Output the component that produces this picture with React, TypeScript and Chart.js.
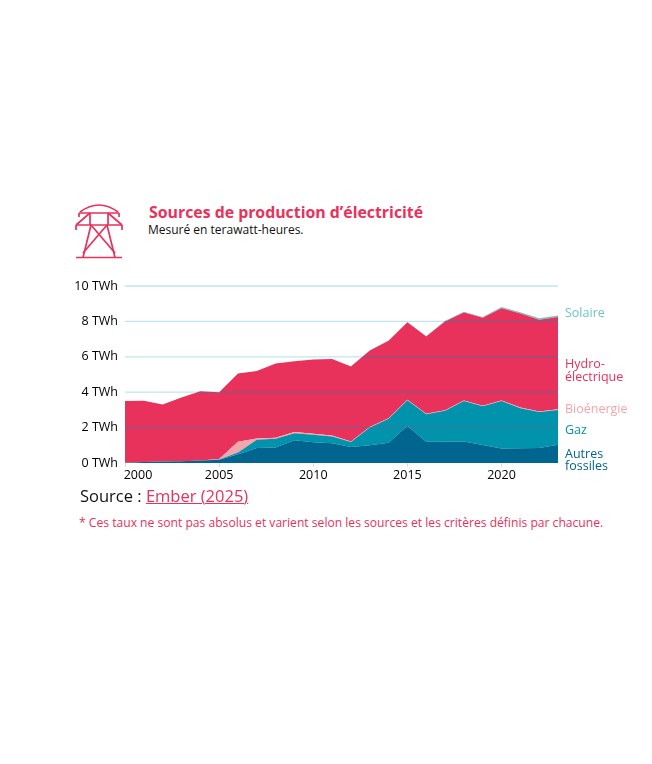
import { useEffect, useRef } from "react"
import { Chart, registerables } from "chart.js"

Chart.register(...registerables)

const years = [2000, 2001, 2002, 2003, 2004, 2005, 2006, 2007, 2008, 2009, 2010, 2011, 2012, 2013, 2014, 2015, 2016, 2017, 2018, 2019, 2020, 2021, 2022, 2023]

const fossiles = [0.02, 0.05, 0.08, 0.1, 0.14, 0.18, 0.5, 0.85, 0.87, 1.28, 1.17, 1.12, 0.9, 1.0, 1.15, 2.1, 1.2, 1.2, 1.22, 1.02, 0.82, 0.83, 0.85, 1.03]
const gaz = [0, 0, 0, 0, 0, 0.02, 0.1, 0.47, 0.5, 0.4, 0.43, 0.38, 0.28, 1.0, 1.35, 1.45, 1.55, 1.75, 2.28, 2.18, 2.68, 2.27, 2.03, 1.97]
const bioenergie = [0, 0, 0, 0, 0, 0.02, 0.6, 0.06, 0.05, 0.07, 0.05, 0.05, 0.04, 0.03, 0.03, 0.03, 0.03, 0.03, 0.03, 0.03, 0.03, 0.03, 0.03, 0.03]
const hydro = [3.48, 3.47, 3.22, 3.6, 3.91, 3.78, 3.85, 3.82, 4.2, 4.0, 4.2, 4.32, 4.23, 4.32, 4.37, 4.37, 4.37, 5.02, 4.97, 4.97, 5.22, 5.32, 5.19, 5.22]
const solaire = [0, 0, 0, 0, 0, 0, 0, 0, 0, 0, 0, 0.01, 0.01, 0.01, 0.02, 0.02, 0.03, 0.04, 0.05, 0.05, 0.06, 0.07, 0.08, 0.09]

const RED = "#e8315b"
const FONT = "'Open Sans', sans-serif"

const sideLabels = [
  { text: "Solaire", top: 305, color: "#6cc5c9" },
  { text: "Hydro-", top: 356, color: RED },
  { text: "électrique", top: 369, color: RED },
  { text: "Bioénergie", top: 401, color: "#f5a5ad" },
  { text: "Gaz", top: 422, color: "#0093ab" },
  { text: "Autres", top: 446, color: "#006690" },
  { text: "fossiles", top: 458, color: "#006690" },
]

// grid lines are pale on the white page and darker where they cross the areas
const gridLines = {
  id: "gridLines",
  afterDatasetsDraw(chart: Chart) {
    const { ctx, chartArea, scales } = chart
    const stroke = (color: string, mode: GlobalCompositeOperation) => {
      ctx.globalCompositeOperation = mode
      ctx.strokeStyle = color
      ctx.lineWidth = 1.3
      scales.y.ticks.forEach((t) => {
        if (t.value === 0) return
        const y = scales.y.getPixelForValue(t.value)
        ctx.beginPath()
        ctx.moveTo(chartArea.left, y)
        ctx.lineTo(chartArea.right, y)
        ctx.stroke()
      })
    }
    ctx.save()
    stroke("rgba(80, 110, 150, 0.65)", "source-atop")
    stroke("#bfe6ee", "destination-over")
    ctx.restore()
  },
}

function area(label: string, data: number[], color: string, fill: string | number) {
  return {
    label,
    data,
    backgroundColor: color,
    borderColor: color,
    borderWidth: 0,
    pointRadius: 0,
    tension: 0,
    fill,
  }
}

function PylonIcon() {
  return (
    <svg
      width="60"
      height="65"
      viewBox="0 0 60 65"
      fill="none"
      stroke={RED}
      strokeWidth="1.7"
      style={{ position: "absolute", left: 70, top: 200 }}
    >
      <path d="M6 57.5H52" />
      <path d="M13 57.5L21 25M45 57.5L37 25" />
      <path d="M20 13V25M38 13V25" />
      <path d="M9 13H49M9 13V17M49 13V17" />
      <path d="M6 25H52M6 25V30M52 25V30" />
      <path d="M20 13L6 25M38 13L52 25" />
      <path d="M10 12Q29 -2 48 12" />
      <path d="M21 25L45 53M37 25L13 53" />
    </svg>
  )
}

export default function App() {
  const chartRef = useRef<HTMLCanvasElement>(null)

  useEffect(() => {
    if (!chartRef.current) return
    const chart = new Chart(chartRef.current, {
      type: "line",
      plugins: [gridLines],
      data: {
        labels: years,
        datasets: [
          area("Autres fossiles", fossiles, "#006690", "origin"),
          area("Gaz", gaz, "#0093ab", "-1"),
          area("Bioénergie", bioenergie, "#f5a5ad", "-1"),
          area("Hydro-électrique", hydro, RED, "-1"),
          area("Solaire", solaire, "#6cc5c9", "-1"),
        ],
      },
      options: {
        animation: false,
        responsive: false,
        layout: { autoPadding: false, padding: { top: 10, right: 12, left: 0, bottom: 0 } },
        plugins: { legend: { display: false }, tooltip: { enabled: false } },
        scales: {
          x: {
            type: "linear",
            min: 2000,
            max: 2023,
            afterFit: (scale) => {
              scale.height = 23
              scale.paddingLeft = 0
              scale.paddingRight = 0
            },
            border: { display: false },
            grid: { drawOnChartArea: false, tickLength: 4, tickColor: "#c5e6ee" },
            ticks: {
              stepSize: 5,
              includeBounds: false,
              maxRotation: 0,
              padding: 1,
              color: "#000",
              font: { family: FONT, size: 12.5 },
              // first label sits to the right of its tick
              callback: (v) => (v === 2000 ? "        2000" : String(v)),
            },
          },
          y: {
            stacked: true,
            min: 0,
            max: 10,
            afterFit: (scale) => {
              scale.width = 65
              scale.paddingTop = 0
              scale.paddingBottom = 0
            },
            border: { display: false },
            grid: { display: false, drawTicks: false },
            ticks: {
              stepSize: 2,
              padding: 7,
              color: "#000",
              font: { family: FONT, size: 12.5 },
              callback: (v) => `${v} TWh`,
            },
          },
        },
      },
    })
    return () => chart.destroy()
  }, [])

  return (
    <div style={{ position: "absolute", left: 0, top: 0, width: 652, height: 764, fontFamily: FONT }}>
      <PylonIcon />
      <div style={{ position: "absolute", left: 149, top: 201, fontSize: 15.85, fontWeight: 700, color: RED, whiteSpace: "nowrap" }}>
        Sources de production d’électricité
      </div>
      <div style={{ position: "absolute", left: 148, top: 221, fontSize: 12, color: "#111", whiteSpace: "nowrap" }}>
        Mesuré en terawatt-heures.
      </div>
      <canvas ref={chartRef} width={510} height={210} style={{ position: "absolute", left: 60, top: 276, width: 510, height: 210 }} />
      {sideLabels.map((l) => (
        <div key={l.text} style={{ position: "absolute", left: 565, top: l.top, fontSize: 12.5, lineHeight: "16px", color: l.color, whiteSpace: "nowrap" }}>
          {l.text}
        </div>
      ))}
      <div style={{ position: "absolute", left: 80, top: 484, fontSize: 16.5, color: "#111", whiteSpace: "nowrap" }}>
        Source : <a href="#" style={{ color: RED, textDecorationThickness: 1 }}>Ember (2025)</a>
      </div>
      <div style={{ position: "absolute", left: 79, top: 514, fontSize: 12.12, color: RED, whiteSpace: "nowrap" }}>
        * Ces taux ne sont pas absolus et varient selon les sources et les critères définis par chacune.
      </div>
    </div>
  )
}
